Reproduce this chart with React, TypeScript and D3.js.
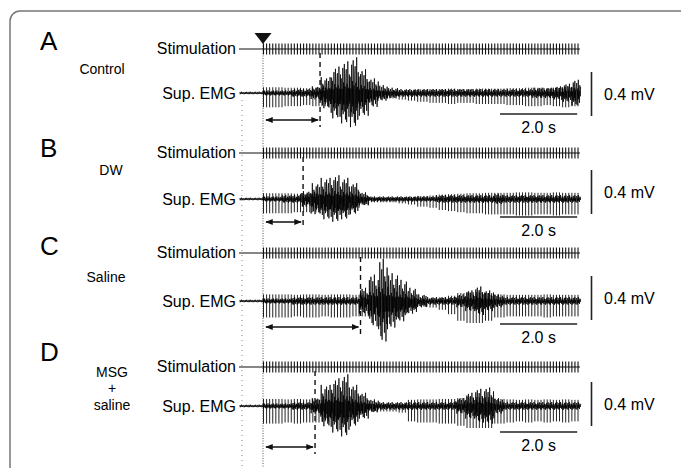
import React from 'react';
import * as d3 from 'd3';

// time axis of every trace, seconds after stimulation onset
const traceEnd = 8.25;
const binSize = 0.25; // envelope arrays hold one value per 0.25 s bin
const stimInterval = 0.08; // train of pulses, ~12.5 Hz
const preStart = -0.6;
const preNoise = 0.01; // mV

// latency from first pulse to swallow onset (s)
const onsetLatency = [1.48, 1.04, 2.53, 1.35];

// stimulus artifact depth in Sup. EMG (mV), per 0.25 s bin
const artifactA = [0.13, 0.13, 0.12, 0.12, 0.11, 0.12, 0.12, 0.1, 0.1, 0.1, 0.08, 0.06, 0.05, 0.05, 0.06, 0.07, 0.08, 0.09, 0.09, 0.1, 0.09, 0.09, 0.1, 0.1, 0.1, 0.11, 0.11, 0.12, 0.12, 0.11, 0.12, 0.13, 0.12];
const artifactB = [0.13, 0.13, 0.13, 0.12, 0.12, 0.12, 0.1, 0.1, 0.1, 0.08, 0.05, 0.03, 0.03, 0.03, 0.04, 0.05, 0.07, 0.08, 0.1, 0.11, 0.12, 0.13, 0.13, 0.14, 0.14, 0.14, 0.15, 0.15, 0.14, 0.14, 0.15, 0.14, 0.14];
const artifactC = [0.15, 0.15, 0.15, 0.14, 0.15, 0.15, 0.14, 0.15, 0.15, 0.14, 0.14, 0.12, 0.1, 0.1, 0.08, 0.06, 0.05, 0.06, 0.08, 0.12, 0.18, 0.2, 0.2, 0.18, 0.15, 0.14, 0.14, 0.14, 0.14, 0.15, 0.14, 0.14, 0.14];
const artifactD = [0.16, 0.16, 0.15, 0.16, 0.15, 0.15, 0.14, 0.12, 0.1, 0.08, 0.06, 0.05, 0.05, 0.05, 0.06, 0.14, 0.15, 0.15, 0.16, 0.16, 0.18, 0.2, 0.2, 0.2, 0.16, 0.15, 0.14, 0.15, 0.14, 0.15, 0.14, 0.15, 0.14];

// swallowing burst amplitude (mV), per 0.25 s bin
const burstA = [0.02, 0.02, 0.02, 0.03, 0.03, 0.05, 0.12, 0.2, 0.24, 0.27, 0.18, 0.11, 0.06, 0.04, 0.03, 0.03, 0.03, 0.03, 0.03, 0.03, 0.03, 0.03, 0.03, 0.03, 0.03, 0.03, 0.03, 0.03, 0.04, 0.04, 0.05, 0.07, 0.1];
const burstB = [0.02, 0.02, 0.03, 0.03, 0.06, 0.12, 0.16, 0.18, 0.16, 0.12, 0.05, 0.02, 0.02, 0.02, 0.02, 0.02, 0.02, 0.02, 0.03, 0.03, 0.03, 0.03, 0.03, 0.03, 0.04, 0.03, 0.03, 0.03, 0.03, 0.03, 0.03, 0.03, 0.03];
const burstC = [0.02, 0.02, 0.02, 0.03, 0.03, 0.03, 0.03, 0.03, 0.03, 0.03, 0.1, 0.2, 0.32, 0.21, 0.16, 0.1, 0.05, 0.03, 0.03, 0.03, 0.05, 0.08, 0.11, 0.08, 0.05, 0.03, 0.03, 0.03, 0.03, 0.03, 0.03, 0.03, 0.03];
const burstD = [0.02, 0.02, 0.02, 0.03, 0.03, 0.06, 0.16, 0.21, 0.24, 0.16, 0.1, 0.05, 0.03, 0.03, 0.03, 0.03, 0.03, 0.03, 0.03, 0.03, 0.06, 0.1, 0.13, 0.14, 0.06, 0.03, 0.03, 0.03, 0.03, 0.03, 0.03, 0.03, 0.03];

// relative shape of the burst waveform (texture)
const burstShape = [0.9, -1.1, 0.35, -0.6, 1.2, -0.5, 0.2, -0.9, 0.7, -0.3, 0.55, -1.15, 0.15, -0.65, 0.95, -0.8, 0.4, -0.45, 1.1, -0.7, 0.25, -1, 0.6];

const panelLetters = ['A', 'B', 'C', 'D'];
const conditions = [['Control'], ['DW'], ['Saline'], ['MSG', '+', 'saline']];
const scaleMv = 0.4;
const scaleSec = 2.0;

const layout = [
  { letterY: 50, condX: 102, condY: [74], stimY: 49, emgY: 93, arrowY: 120, vbarY: 94, hbarY: 114 },
  { letterY: 157, condX: 111, condY: [175], stimY: 153, emgY: 199, arrowY: 222, vbarY: 192, hbarY: 217 },
  { letterY: 255, condX: 106, condY: [282], stimY: 253, emgY: 301, arrowY: 327, vbarY: 298, hbarY: 324 },
  { letterY: 361, condX: 112, condY: [377, 393, 410], stimY: 367, emgY: 406, arrowY: 447, vbarY: 404, hbarY: 432 },
];

const artifacts = [artifactA, artifactB, artifactC, artifactD];
const bursts = [burstA, burstB, burstC, burstD];

const font = "Arial, 'Liberation Sans', sans-serif";

const W = 681;
const H = 468;

const x = d3.scaleLinear().domain([0, traceEnd]).range([263, 581]);
const stimTimes = d3.range(0, traceEnd - 0.02, stimInterval);
const sampleTimes = d3.range(preStart, traceEnd, 0.01);

const binOf = (arr: number[], t: number) => arr[Math.max(0, Math.min(arr.length - 1, Math.floor(t / binSize)))];

const Panel = ({ i }: { i: number }) => {
  const L = layout[i];
  const y = d3.scaleLinear().domain([-0.2, 0.2]).range([L.emgY + 22, L.emgY - 22]);
  const burst = bursts[i];
  const art = artifacts[i];

  const line = d3.line<number>()
    .x(t => x(t))
    .y((t, k) => {
      const amp = t < 0 ? preNoise : binOf(burst, t);
      return y(amp * burstShape[k % burstShape.length]);
    });

  const onsetX = x(onsetLatency[i]);
  const hbarEnd = x(traceEnd - 0.1);
  const hbarStart = hbarEnd - (x(scaleSec) - x(0));
  const vHalf = (y(0) - y(scaleMv)) / 2;

  return (
    <g>
      <text x={40} y={L.letterY} fontSize={26} fontFamily={font}>{panelLetters[i]}</text>
      {conditions[i].map((c, k) => (
        <text key={k} x={L.condX} y={L.condY[k]} fontSize={14} fontFamily={font} textAnchor="middle">{c}</text>
      ))}
      <text x={236} y={L.stimY + 5} fontSize={16} fontFamily={font} textAnchor="end">Stimulation</text>
      <text x={236} y={L.emgY + 6} fontSize={16} fontFamily={font} textAnchor="end">Sup. EMG</text>

      {/* stimulation trace */}
      <line x1={239} x2={x(traceEnd) - 1} y1={L.stimY} y2={L.stimY} stroke="#111" strokeWidth={1.2} />
      {stimTimes.map((t, k) => (
        <line key={k} x1={x(t) + 0.5} x2={x(t) + 0.5} y1={L.stimY - 5.5} y2={L.stimY + 5.5} stroke="#111" strokeWidth={1.1} />
      ))}

      {/* onset marker */}
      <line x1={onsetX} x2={onsetX} y1={L.stimY + 4} y2={L.arrowY + 7} stroke="#111" strokeWidth={1.4} strokeDasharray="5,4" />

      {/* EMG: stimulus artifacts + burst */}
      {stimTimes.map((t, k) => {
        const d = binOf(art, t);
        return (
          <line key={k} x1={x(t) + 0.5} x2={x(t) + 0.5} y1={y(d * 0.4)} y2={y(-d)} stroke="#222" strokeWidth={1} />
        );
      })}
      <path d={line(sampleTimes) || ''} fill="none" stroke="#000" strokeWidth={0.75} />

      {/* latency arrow */}
      <line x1={x(0) + 3} x2={onsetX - 2} y1={L.arrowY} y2={L.arrowY} stroke="#111" strokeWidth={1.5}
        markerStart="url(#arrowL)" markerEnd="url(#arrowR)" />

      {/* scale bars */}
      <line x1={591.5} x2={591.5} y1={L.vbarY - vHalf} y2={L.vbarY + vHalf} stroke="#222" strokeWidth={1.6} />
      <text x={604} y={L.vbarY + 6} fontSize={16} fontFamily={font}>{scaleMv.toFixed(1)} mV</text>
      <line x1={hbarStart} x2={hbarEnd} y1={L.hbarY} y2={L.hbarY} stroke="#222" strokeWidth={1.6} />
      <text x={(hbarStart + hbarEnd) / 2} y={L.hbarY + 19} fontSize={16} fontFamily={font} textAnchor="middle">{scaleSec.toFixed(1)} s</text>
    </g>
  );
};

export default function App() {
  const x0 = x(0);
  return (
    <svg width={W} height={H} style={{ position: 'absolute', left: 0, top: 0, background: '#fff' }}>
      <defs>
        <marker id="arrowR" viewBox="0 0 10 10" refX={9} refY={5} markerWidth={5} markerHeight={5} orient="auto">
          <path d="M0,1 L10,5 L0,9 Z" fill="#111" />
        </marker>
        <marker id="arrowL" viewBox="0 0 10 10" refX={1} refY={5} markerWidth={5} markerHeight={5} orient="auto">
          <path d="M10,1 L0,5 L10,9 Z" fill="#111" />
        </marker>
      </defs>
      <rect x={10} y={11} width={720} height={500} rx={10} fill="none" stroke="#777" strokeWidth={1.5} />

      {/* reference lines */}
      <line x1={242} x2={242} y1={100} y2={H} stroke="#999" strokeWidth={1.2} strokeDasharray="1,4" />
      <line x1={x0} x2={x0} y1={43} y2={H} stroke="#555" strokeWidth={1} strokeDasharray="1,1.5" />
      <path d={`M${x0 - 8.5},33 L${x0 + 8.5},33 L${x0},44 Z`} fill="#111" />

      {layout.map((_, i) => <Panel key={i} i={i} />)}
    </svg>
  );
}
